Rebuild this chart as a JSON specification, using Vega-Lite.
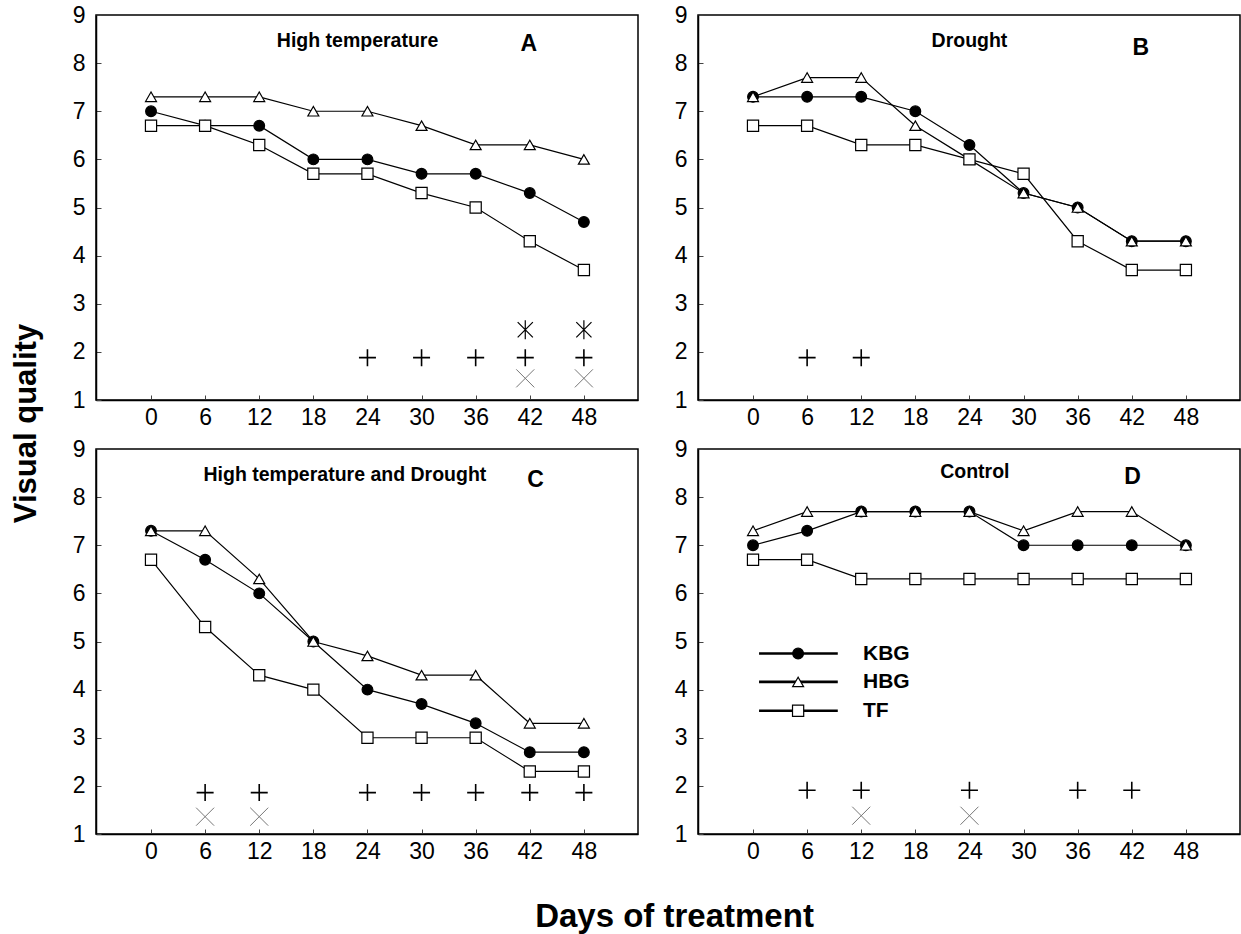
{
"$schema":"https://vega.github.io/schema/vega-lite/v6.json",
"padding":{"left":9,"top":3,"right":0,"bottom":0},
"background":"white",
"datasets":{
"series":[
{"p":"A","v":"KBG","d":0,"q":7},{"p":"A","v":"KBG","d":6,"q":6.7},{"p":"A","v":"KBG","d":12,"q":6.7},{"p":"A","v":"KBG","d":18,"q":6},{"p":"A","v":"KBG","d":24,"q":6},{"p":"A","v":"KBG","d":30,"q":5.7},{"p":"A","v":"KBG","d":36,"q":5.7},{"p":"A","v":"KBG","d":42,"q":5.3},{"p":"A","v":"KBG","d":48,"q":4.7},
{"p":"A","v":"HBG","d":0,"q":7.3},{"p":"A","v":"HBG","d":6,"q":7.3},{"p":"A","v":"HBG","d":12,"q":7.3},{"p":"A","v":"HBG","d":18,"q":7},{"p":"A","v":"HBG","d":24,"q":7},{"p":"A","v":"HBG","d":30,"q":6.7},{"p":"A","v":"HBG","d":36,"q":6.3},{"p":"A","v":"HBG","d":42,"q":6.3},{"p":"A","v":"HBG","d":48,"q":6},
{"p":"A","v":"TF","d":0,"q":6.7},{"p":"A","v":"TF","d":6,"q":6.7},{"p":"A","v":"TF","d":12,"q":6.3},{"p":"A","v":"TF","d":18,"q":5.7},{"p":"A","v":"TF","d":24,"q":5.7},{"p":"A","v":"TF","d":30,"q":5.3},{"p":"A","v":"TF","d":36,"q":5},{"p":"A","v":"TF","d":42,"q":4.3},{"p":"A","v":"TF","d":48,"q":3.7},
{"p":"B","v":"KBG","d":0,"q":7.3},{"p":"B","v":"KBG","d":6,"q":7.3},{"p":"B","v":"KBG","d":12,"q":7.3},{"p":"B","v":"KBG","d":18,"q":7},{"p":"B","v":"KBG","d":24,"q":6.3},{"p":"B","v":"KBG","d":30,"q":5.3},{"p":"B","v":"KBG","d":36,"q":5},{"p":"B","v":"KBG","d":42,"q":4.3},{"p":"B","v":"KBG","d":48,"q":4.3},
{"p":"B","v":"HBG","d":0,"q":7.3},{"p":"B","v":"HBG","d":6,"q":7.7},{"p":"B","v":"HBG","d":12,"q":7.7},{"p":"B","v":"HBG","d":18,"q":6.7},{"p":"B","v":"HBG","d":24,"q":6},{"p":"B","v":"HBG","d":30,"q":5.3},{"p":"B","v":"HBG","d":36,"q":5},{"p":"B","v":"HBG","d":42,"q":4.3},{"p":"B","v":"HBG","d":48,"q":4.3},
{"p":"B","v":"TF","d":0,"q":6.7},{"p":"B","v":"TF","d":6,"q":6.7},{"p":"B","v":"TF","d":12,"q":6.3},{"p":"B","v":"TF","d":18,"q":6.3},{"p":"B","v":"TF","d":24,"q":6},{"p":"B","v":"TF","d":30,"q":5.7},{"p":"B","v":"TF","d":36,"q":4.3},{"p":"B","v":"TF","d":42,"q":3.7},{"p":"B","v":"TF","d":48,"q":3.7},
{"p":"C","v":"KBG","d":0,"q":7.3},{"p":"C","v":"KBG","d":6,"q":6.7},{"p":"C","v":"KBG","d":12,"q":6},{"p":"C","v":"KBG","d":18,"q":5},{"p":"C","v":"KBG","d":24,"q":4},{"p":"C","v":"KBG","d":30,"q":3.7},{"p":"C","v":"KBG","d":36,"q":3.3},{"p":"C","v":"KBG","d":42,"q":2.7},{"p":"C","v":"KBG","d":48,"q":2.7},
{"p":"C","v":"HBG","d":0,"q":7.3},{"p":"C","v":"HBG","d":6,"q":7.3},{"p":"C","v":"HBG","d":12,"q":6.3},{"p":"C","v":"HBG","d":18,"q":5},{"p":"C","v":"HBG","d":24,"q":4.7},{"p":"C","v":"HBG","d":30,"q":4.3},{"p":"C","v":"HBG","d":36,"q":4.3},{"p":"C","v":"HBG","d":42,"q":3.3},{"p":"C","v":"HBG","d":48,"q":3.3},
{"p":"C","v":"TF","d":0,"q":6.7},{"p":"C","v":"TF","d":6,"q":5.3},{"p":"C","v":"TF","d":12,"q":4.3},{"p":"C","v":"TF","d":18,"q":4},{"p":"C","v":"TF","d":24,"q":3},{"p":"C","v":"TF","d":30,"q":3},{"p":"C","v":"TF","d":36,"q":3},{"p":"C","v":"TF","d":42,"q":2.3},{"p":"C","v":"TF","d":48,"q":2.3},
{"p":"D","v":"KBG","d":0,"q":7},{"p":"D","v":"KBG","d":6,"q":7.3},{"p":"D","v":"KBG","d":12,"q":7.7},{"p":"D","v":"KBG","d":18,"q":7.7},{"p":"D","v":"KBG","d":24,"q":7.7},{"p":"D","v":"KBG","d":30,"q":7},{"p":"D","v":"KBG","d":36,"q":7},{"p":"D","v":"KBG","d":42,"q":7},{"p":"D","v":"KBG","d":48,"q":7},
{"p":"D","v":"HBG","d":0,"q":7.3},{"p":"D","v":"HBG","d":6,"q":7.7},{"p":"D","v":"HBG","d":12,"q":7.7},{"p":"D","v":"HBG","d":18,"q":7.7},{"p":"D","v":"HBG","d":24,"q":7.7},{"p":"D","v":"HBG","d":30,"q":7.3},{"p":"D","v":"HBG","d":36,"q":7.7},{"p":"D","v":"HBG","d":42,"q":7.7},{"p":"D","v":"HBG","d":48,"q":7},
{"p":"D","v":"TF","d":0,"q":6.7},{"p":"D","v":"TF","d":6,"q":6.7},{"p":"D","v":"TF","d":12,"q":6.3},{"p":"D","v":"TF","d":18,"q":6.3},{"p":"D","v":"TF","d":24,"q":6.3},{"p":"D","v":"TF","d":30,"q":6.3},{"p":"D","v":"TF","d":36,"q":6.3},{"p":"D","v":"TF","d":42,"q":6.3},{"p":"D","v":"TF","d":48,"q":6.3}
],
"sig":[
{"p":"A","m":"plus","d":24,"q":1.88},{"p":"A","m":"plus","d":30,"q":1.88},{"p":"A","m":"plus","d":36,"q":1.88},{"p":"A","m":"plus","d":41.5,"q":1.88},{"p":"A","m":"plus","d":48,"q":1.88},
{"p":"A","m":"star","d":41.5,"q":2.46},{"p":"A","m":"star","d":48,"q":2.46},
{"p":"A","m":"x","d":41.5,"q":1.45},{"p":"A","m":"x","d":48,"q":1.45},
{"p":"B","m":"plus","d":6,"q":1.88},{"p":"B","m":"plus","d":12,"q":1.88},
{"p":"C","m":"plus","d":6,"q":1.86},{"p":"C","m":"plus","d":12,"q":1.86},{"p":"C","m":"plus","d":24,"q":1.86},{"p":"C","m":"plus","d":30,"q":1.86},{"p":"C","m":"plus","d":36,"q":1.86},{"p":"C","m":"plus","d":42,"q":1.86},{"p":"C","m":"plus","d":48,"q":1.86},
{"p":"C","m":"x","d":6,"q":1.36},{"p":"C","m":"x","d":12,"q":1.36},
{"p":"D","m":"plus","d":6,"q":1.91},{"p":"D","m":"plus","d":12,"q":1.91},{"p":"D","m":"plus","d":24,"q":1.91},{"p":"D","m":"plus","d":36,"q":1.91},{"p":"D","m":"plus","d":42,"q":1.91},
{"p":"D","m":"x","d":12,"q":1.38},{"p":"D","m":"x","d":24,"q":1.38}
],
"labels":[
{"p":"A","k":"name","t":"High temperature","d":22.9,"q":8.46},{"p":"A","k":"letter","t":"A","d":41.9,"q":8.4},
{"p":"B","k":"name","t":"Drought","d":24.0,"q":8.47},{"p":"B","k":"letter","t":"B","d":43.0,"q":8.32},
{"p":"C","k":"name","t":"High temperature and Drought","d":21.5,"q":8.46},{"p":"C","k":"letter","t":"C","d":42.65,"q":8.36},
{"p":"D","k":"name","t":"Control","d":24.6,"q":8.52},{"p":"D","k":"letter","t":"D","d":42.1,"q":8.41}
],
"legendrows":[
{"v":"KBG","d":0.67,"d2":9.4,"dm":5.0,"dt":12.2,"q":4.75},
{"v":"HBG","d":0.67,"d2":9.4,"dm":5.0,"dt":12.2,"q":4.16},
{"v":"TF","d":0.67,"d2":9.4,"dm":5.0,"dt":12.2,"q":3.56}
]
},
"concat":[
{"width":542,"height":385,
 "encoding":{
  "x":{"field":"d","type":"quantitative","scale":{"domain":[-6.1,54],"nice":false,"zero":false},"axis":{"values":[0,6,12,18,24,30,36,42,48],"title":null}},
  "y":{"field":"q","type":"quantitative","scale":{"domain":[1,9],"nice":false,"zero":false},"axis":{"values":[1,2,3,4,5,6,7,8,9],"title":"Visual quality","titleX":-61,"titleY":408,"titleAngle":-90,"titleAlign":"center","titleBaseline":"alphabetic","titleFontSize":31}}
 },
 "layer":[
  {"data":{"name":"series"},"transform":[{"filter":"datum.p === 'A'"}],"mark":{"type":"line","stroke":"black","strokeWidth":1.2},"encoding":{"detail":{"field":"v"}}},
  {"data":{"name":"series"},"transform":[{"filter":"datum.p === 'A'"}],"mark":{"type":"point","filled":true,"stroke":"black","strokeWidth":1.2,"opacity":1},
   "encoding":{"shape":{"field":"v","type":"nominal","scale":{"domain":["KBG","HBG","TF"],"range":["circle","triangle-up","square"]},"legend":null},
               "fill":{"field":"v","type":"nominal","scale":{"domain":["KBG","HBG","TF"],"range":["black","white","white"]},"legend":null},
               "size":{"field":"v","type":"nominal","scale":{"domain":["KBG","HBG","TF"],"range":[115,125,105]},"legend":null}}},
  {"data":{"name":"sig"},"transform":[{"filter":"datum.p === 'A' && datum.m === 'plus'"}],"mark":{"type":"point","shape":"M-1,0L1,0M0,-1L0,1","size":289,"filled":false,"stroke":"black","strokeWidth":1.6,"opacity":1}},
  {"data":{"name":"sig"},"transform":[{"filter":"datum.p === 'A' && datum.m === 'star'"}],"mark":{"type":"point","shape":"M0,-1L0,1M-0.8,-0.8L0.8,0.8M-0.8,0.8L0.8,-0.8","size":361,"filled":false,"stroke":"black","strokeWidth":1.2,"opacity":1}},
  {"data":{"name":"sig"},"transform":[{"filter":"datum.p === 'A' && datum.m === 'x'"}],"mark":{"type":"point","shape":"M-1,-1L1,1M-1,1L1,-1","size":324,"filled":false,"stroke":"#777777","strokeWidth":1,"opacity":1}},
  {"data":{"name":"labels"},"transform":[{"filter":"datum.p === 'A' && datum.k === 'name'"}],"mark":{"type":"text","font":"Liberation Sans","fontWeight":"bold","fontSize":19.5,"align":"center","baseline":"middle","color":"black"},"encoding":{"text":{"field":"t"}}},
  {"data":{"name":"labels"},"transform":[{"filter":"datum.p === 'A' && datum.k === 'letter'"}],"mark":{"type":"text","font":"Liberation Sans","fontWeight":"bold","fontSize":23,"align":"center","baseline":"middle","color":"black"},"encoding":{"text":{"field":"t"}}}
 ]},
{"width":542,"height":385,
 "encoding":{
  "x":{"field":"d","type":"quantitative","scale":{"domain":[-6.1,54],"nice":false,"zero":false},"axis":{"values":[0,6,12,18,24,30,36,42,48],"title":null}},
  "y":{"field":"q","type":"quantitative","scale":{"domain":[1,9],"nice":false,"zero":false},"axis":{"values":[1,2,3,4,5,6,7,8,9],"title":null}}
 },
 "layer":[
  {"data":{"name":"series"},"transform":[{"filter":"datum.p === 'B'"}],"mark":{"type":"line","stroke":"black","strokeWidth":1.2},"encoding":{"detail":{"field":"v"}}},
  {"data":{"name":"series"},"transform":[{"filter":"datum.p === 'B'"}],"mark":{"type":"point","filled":true,"stroke":"black","strokeWidth":1.2,"opacity":1},
   "encoding":{"shape":{"field":"v","type":"nominal","scale":{"domain":["KBG","HBG","TF"],"range":["circle","triangle-up","square"]},"legend":null},
               "fill":{"field":"v","type":"nominal","scale":{"domain":["KBG","HBG","TF"],"range":["black","white","white"]},"legend":null},
               "size":{"field":"v","type":"nominal","scale":{"domain":["KBG","HBG","TF"],"range":[115,125,105]},"legend":null}}},
  {"data":{"name":"sig"},"transform":[{"filter":"datum.p === 'B' && datum.m === 'plus'"}],"mark":{"type":"point","shape":"M-1,0L1,0M0,-1L0,1","size":289,"filled":false,"stroke":"black","strokeWidth":1.6,"opacity":1}},
  {"data":{"name":"labels"},"transform":[{"filter":"datum.p === 'B' && datum.k === 'name'"}],"mark":{"type":"text","font":"Liberation Sans","fontWeight":"bold","fontSize":19.5,"align":"center","baseline":"middle","color":"black"},"encoding":{"text":{"field":"t"}}},
  {"data":{"name":"labels"},"transform":[{"filter":"datum.p === 'B' && datum.k === 'letter'"}],"mark":{"type":"text","font":"Liberation Sans","fontWeight":"bold","fontSize":23,"align":"center","baseline":"middle","color":"black"},"encoding":{"text":{"field":"t"}}}
 ]},
{"width":542,"height":385,
 "encoding":{
  "x":{"field":"d","type":"quantitative","scale":{"domain":[-6.1,54],"nice":false,"zero":false},"axis":{"values":[0,6,12,18,24,30,36,42,48],"title":"Days of treatment","titleX":578,"titleY":92,"titleAlign":"center","titleBaseline":"alphabetic","titleFontSize":33}},
  "y":{"field":"q","type":"quantitative","scale":{"domain":[1,9],"nice":false,"zero":false},"axis":{"values":[1,2,3,4,5,6,7,8,9],"title":null}}
 },
 "layer":[
  {"data":{"name":"series"},"transform":[{"filter":"datum.p === 'C'"}],"mark":{"type":"line","stroke":"black","strokeWidth":1.2},"encoding":{"detail":{"field":"v"}}},
  {"data":{"name":"series"},"transform":[{"filter":"datum.p === 'C'"}],"mark":{"type":"point","filled":true,"stroke":"black","strokeWidth":1.2,"opacity":1},
   "encoding":{"shape":{"field":"v","type":"nominal","scale":{"domain":["KBG","HBG","TF"],"range":["circle","triangle-up","square"]},"legend":null},
               "fill":{"field":"v","type":"nominal","scale":{"domain":["KBG","HBG","TF"],"range":["black","white","white"]},"legend":null},
               "size":{"field":"v","type":"nominal","scale":{"domain":["KBG","HBG","TF"],"range":[115,125,105]},"legend":null}}},
  {"data":{"name":"sig"},"transform":[{"filter":"datum.p === 'C' && datum.m === 'plus'"}],"mark":{"type":"point","shape":"M-1,0L1,0M0,-1L0,1","size":289,"filled":false,"stroke":"black","strokeWidth":1.6,"opacity":1}},
  {"data":{"name":"sig"},"transform":[{"filter":"datum.p === 'C' && datum.m === 'x'"}],"mark":{"type":"point","shape":"M-1,-1L1,1M-1,1L1,-1","size":324,"filled":false,"stroke":"#777777","strokeWidth":1,"opacity":1}},
  {"data":{"name":"labels"},"transform":[{"filter":"datum.p === 'C' && datum.k === 'name'"}],"mark":{"type":"text","font":"Liberation Sans","fontWeight":"bold","fontSize":19.5,"align":"center","baseline":"middle","color":"black"},"encoding":{"text":{"field":"t"}}},
  {"data":{"name":"labels"},"transform":[{"filter":"datum.p === 'C' && datum.k === 'letter'"}],"mark":{"type":"text","font":"Liberation Sans","fontWeight":"bold","fontSize":23,"align":"center","baseline":"middle","color":"black"},"encoding":{"text":{"field":"t"}}}
 ]},
{"width":542,"height":385,
 "encoding":{
  "x":{"field":"d","type":"quantitative","scale":{"domain":[-6.1,54],"nice":false,"zero":false},"axis":{"values":[0,6,12,18,24,30,36,42,48],"title":null}},
  "y":{"field":"q","type":"quantitative","scale":{"domain":[1,9],"nice":false,"zero":false},"axis":{"values":[1,2,3,4,5,6,7,8,9],"title":null}}
 },
 "layer":[
  {"data":{"name":"series"},"transform":[{"filter":"datum.p === 'D'"}],"mark":{"type":"line","stroke":"black","strokeWidth":1.2},"encoding":{"detail":{"field":"v"}}},
  {"data":{"name":"series"},"transform":[{"filter":"datum.p === 'D'"}],"mark":{"type":"point","filled":true,"stroke":"black","strokeWidth":1.2,"opacity":1},
   "encoding":{"shape":{"field":"v","type":"nominal","scale":{"domain":["KBG","HBG","TF"],"range":["circle","triangle-up","square"]},"legend":null},
               "fill":{"field":"v","type":"nominal","scale":{"domain":["KBG","HBG","TF"],"range":["black","white","white"]},"legend":null},
               "size":{"field":"v","type":"nominal","scale":{"domain":["KBG","HBG","TF"],"range":[115,125,105]},"legend":null}}},
  {"data":{"name":"legendrows"},"mark":{"type":"rule","stroke":"black","strokeWidth":2.6},"encoding":{"x2":{"field":"d2"}}},
  {"data":{"name":"legendrows"},"mark":{"type":"point","filled":true,"stroke":"black","strokeWidth":1.2,"opacity":1},
   "encoding":{"x":{"field":"dm","type":"quantitative"},
               "shape":{"field":"v","type":"nominal","scale":{"domain":["KBG","HBG","TF"],"range":["circle","triangle-up","square"]},"legend":null},
               "fill":{"field":"v","type":"nominal","scale":{"domain":["KBG","HBG","TF"],"range":["black","white","white"]},"legend":null},
               "size":{"field":"v","type":"nominal","scale":{"domain":["KBG","HBG","TF"],"range":[115,125,105]},"legend":null}}},
  {"data":{"name":"legendrows"},"mark":{"type":"text","font":"Liberation Sans","fontWeight":"bold","fontSize":21,"align":"left","baseline":"middle","color":"black"},
   "encoding":{"x":{"field":"dt","type":"quantitative"},"text":{"field":"v"}}},
  {"data":{"name":"sig"},"transform":[{"filter":"datum.p === 'D' && datum.m === 'plus'"}],"mark":{"type":"point","shape":"M-1,0L1,0M0,-1L0,1","size":289,"filled":false,"stroke":"black","strokeWidth":1.6,"opacity":1}},
  {"data":{"name":"sig"},"transform":[{"filter":"datum.p === 'D' && datum.m === 'x'"}],"mark":{"type":"point","shape":"M-1,-1L1,1M-1,1L1,-1","size":324,"filled":false,"stroke":"#777777","strokeWidth":1,"opacity":1}},
  {"data":{"name":"labels"},"transform":[{"filter":"datum.p === 'D' && datum.k === 'name'"}],"mark":{"type":"text","font":"Liberation Sans","fontWeight":"bold","fontSize":19.5,"align":"center","baseline":"middle","color":"black"},"encoding":{"text":{"field":"t"}}},
  {"data":{"name":"labels"},"transform":[{"filter":"datum.p === 'D' && datum.k === 'letter'"}],"mark":{"type":"text","font":"Liberation Sans","fontWeight":"bold","fontSize":23,"align":"center","baseline":"middle","color":"black"},"encoding":{"text":{"field":"t"}}}
 ]}
],
"columns":2,
"spacing":{"row":49,"column":60},
"bounds":"flush",
"resolve":{"scale":{"fill":"independent","shape":"independent","size":"independent"},"legend":{"fill":"independent","shape":"independent","size":"independent"}},
"config":{
 "font":"Liberation Sans",
 "view":{"stroke":"black","strokeWidth":1.5},
 "axis":{"labelFont":"Liberation Sans","labelFontSize":23,"labelColor":"black","domainColor":"black","domainWidth":1.5,"tickColor":"#444444","tickSize":-5,"tickWidth":1,"grid":false,"labelOverlap":false,"labelFlush":false,"titleFont":"Liberation Sans","titleFontWeight":"bold","titleColor":"black"},
 "axisX":{"labelPadding":11},
 "axisY":{"labelPadding":16}
}
}
